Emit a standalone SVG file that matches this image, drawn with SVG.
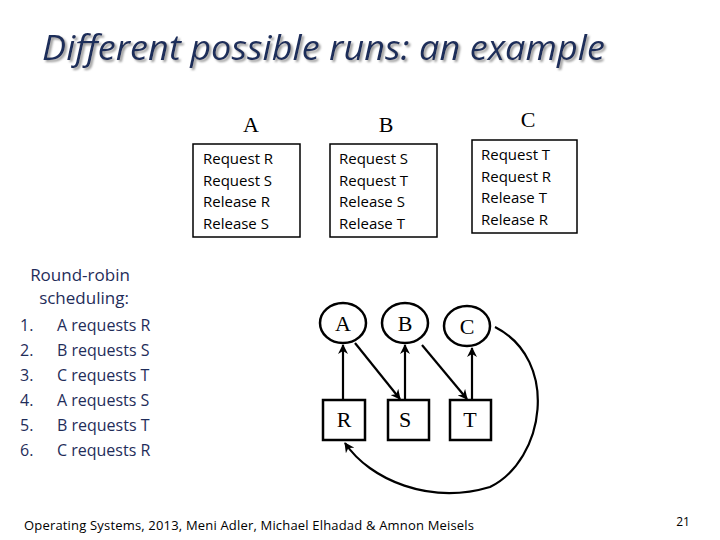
<svg xmlns="http://www.w3.org/2000/svg" width="720" height="540" viewBox="0 0 720 540">
<style>
.t{font-family:"Liberation Serif",serif;font-size:22px;fill:#000}
.s{font-family:"Open Sans","DejaVu Sans",sans-serif;font-size:15px;fill:#000}
.b{fill:#fff;stroke:#000;stroke-width:1.5}
.n{fill:#fff;stroke:#000;stroke-width:2.5}
.e{fill:none;stroke:#000;stroke-width:2.2;marker-end:url(#ah)}
</style>
<defs><marker id="ah" markerWidth="10" markerHeight="10" refX="9" refY="5" orient="auto" markerUnits="userSpaceOnUse"><path d="M0,0 L10,5 L0,10 L3,5 Z" fill="#000"/></marker>
<filter id="sh" x="-5%" y="-20%" width="110%" height="150%"><feDropShadow dx="2" dy="2" stdDeviation="0.8" flood-color="#999"/></filter></defs>
<rect width="720" height="540" fill="#fff"/>
<text x="42" y="60" font-family="'Open Sans','DejaVu Sans',sans-serif" font-style="italic" font-size="35" fill="#1f2d5a" textLength="563" lengthAdjust="spacingAndGlyphs" filter="url(#sh)">Different possible runs: an example</text>
<g id="procA"><text class="t" x="251" y="132" text-anchor="middle">A</text><rect class="b" x="193" y="144" width="107" height="93"/>
<text class="s" x="203" y="164">Request R</text><text class="s" x="203" y="186">Request S</text><text class="s" x="203" y="207">Release R</text><text class="s" x="203" y="229">Release S</text></g>
<g id="procB"><text class="t" x="386" y="132" text-anchor="middle">B</text><rect class="b" x="330" y="144" width="107" height="93"/>
<text class="s" x="339" y="164">Request S</text><text class="s" x="339" y="186">Request T</text><text class="s" x="339" y="207">Release S</text><text class="s" x="339" y="229">Release T</text></g>
<g id="procC"><text class="t" x="528" y="127" text-anchor="middle">C</text><rect class="b" x="472" y="140" width="105" height="93"/>
<text class="s" x="481" y="160">Request T</text><text class="s" x="481" y="182">Request R</text><text class="s" x="481" y="203">Release T</text><text class="s" x="481" y="225">Release R</text></g>
<g id="rr" font-family="'Open Sans','DejaVu Sans',sans-serif" fill="#1f2d5a">
<text x="80" y="281" font-size="17" text-anchor="middle">Round-robin</text>
<text x="84" y="304" font-size="17" text-anchor="middle">scheduling:</text>
<g font-size="16">
<text x="20" y="331">1.</text><text x="57" y="331">A requests R</text>
<text x="20" y="356">2.</text><text x="57" y="356">B requests S</text>
<text x="20" y="381">3.</text><text x="57" y="381">C requests T</text>
<text x="20" y="406">4.</text><text x="57" y="406">A requests S</text>
<text x="20" y="431">5.</text><text x="57" y="431">B requests T</text>
<text x="20" y="456">6.</text><text x="57" y="456">C requests R</text></g></g>
<g id="connectors">
<path class="e" d="M343,400 L343,345"/>
<path class="e" d="M355,343 L400,399"/>
<path class="e" d="M405,400 L405,345"/>
<path class="e" d="M422,345 L467,399"/>
<path class="e" d="M472,400 L472,348"/>
<path class="e" d="M495,327 C560,360 545,460 490,487 C430,505 370,480 345,443"/>
</g>
<g id="nA"><ellipse class="n" cx="343" cy="323" rx="23" ry="20"/><text class="t" x="343" y="331" text-anchor="middle">A</text></g>
<g id="nB"><ellipse class="n" cx="405" cy="323" rx="23" ry="20"/><text class="t" x="405" y="331" text-anchor="middle">B</text></g>
<g id="nC"><ellipse class="n" cx="467" cy="326" rx="23" ry="20"/><text class="t" x="467" y="334" text-anchor="middle">C</text></g>
<g id="nR"><rect class="n" x="323" y="400" width="42" height="40"/><text class="t" x="344" y="427" text-anchor="middle">R</text></g>
<g id="nS"><rect class="n" x="388" y="400" width="41" height="40"/><text class="t" x="405" y="427" text-anchor="middle">S</text></g>
<g id="nT"><rect class="n" x="450" y="400" width="41" height="40"/><text class="t" x="470" y="427" text-anchor="middle">T</text></g>
<text x="24" y="530" font-family="'Open Sans','DejaVu Sans',sans-serif" font-size="13" fill="#000" textLength="450">Operating Systems, 2013, Meni Adler, Michael Elhadad &amp; Amnon Meisels</text>
<text x="683" y="526" font-family="'Open Sans','DejaVu Sans',sans-serif" font-size="12" text-anchor="middle">21</text>
</svg>
